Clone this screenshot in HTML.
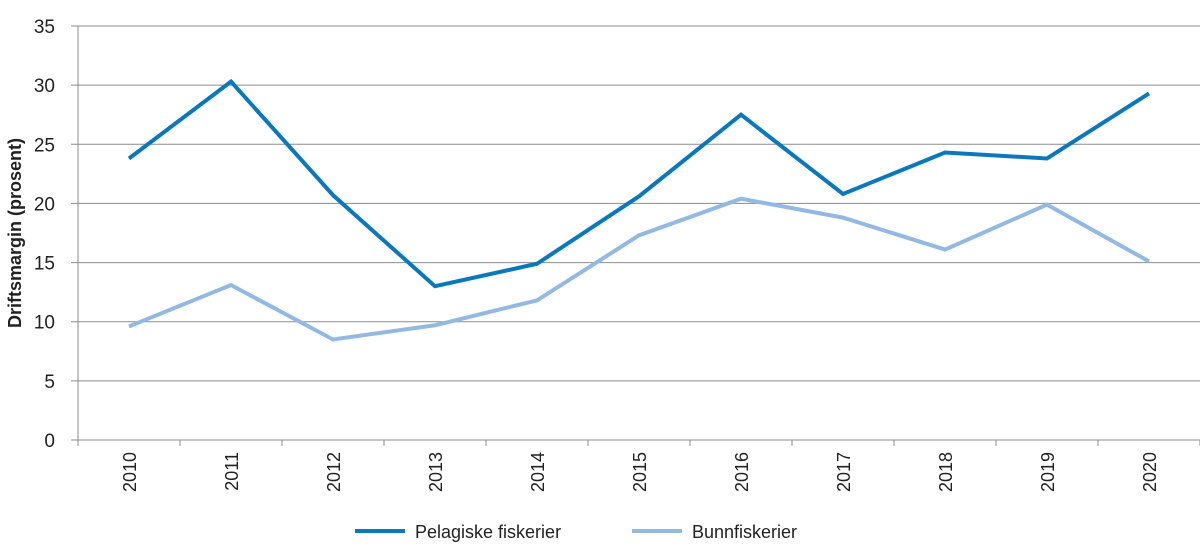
<!DOCTYPE html>
<html><head><meta charset="utf-8"><style>
body{margin:0;background:#fff;}
svg{display:block;font-family:"Liberation Sans",sans-serif;}
</style></head><body>
<svg id="chart" width="1200" height="558" viewBox="0 0 1200 558" xmlns="http://www.w3.org/2000/svg">
<g id="grid"></g><g id="axes"></g><g id="series"></g>
<text transform="translate(21,233) rotate(-90)" text-anchor="middle" font-size="18" font-weight="bold" fill="#222">Driftsmargin (prosent)</text>
<g>
<g><line x1="355" y1="531" x2="405" y2="531" stroke="#0a78bd" stroke-width="4"/><text x="415" y="538" font-size="18" fill="#222">Pelagiske fiskerier</text></g>
<g><line x1="632" y1="531" x2="682" y2="531" stroke="#92b9e3" stroke-width="4"/><text x="692" y="538" font-size="18" fill="#222">Bunnfiskerier</text></g>
</g>
</svg>
<script>
const categories=["2010","2011","2012","2013","2014","2015","2016","2017","2018","2019","2020"];
const pelagiske=[23.8,30.3,20.7,13.0,14.9,20.6,27.5,20.8,24.3,23.8,29.3];
const bunn=[9.6,13.1,8.5,9.7,11.8,17.3,20.4,18.8,16.1,19.9,15.1];
const yTicks=[0,5,10,15,20,25,30,35];
const NS="http://www.w3.org/2000/svg";
const L=78,R=1200,T=26,B=440,YMAX=35;
const step=(R-L)/categories.length;
const x=i=>L+step*(i+0.5);
const y=v=>B-(v/YMAX)*(B-T);
function mk(tag,attrs,parent){const e=document.createElementNS(NS,tag);for(const k in attrs)e.setAttribute(k,attrs[k]);parent.appendChild(e);return e;}
const grid=document.getElementById('grid'),axes=document.getElementById('axes'),ser=document.getElementById('series');
yTicks.forEach(t=>{
 const ln=mk('line',{x1:71,x2:R,y1:y(t),y2:y(t),stroke:'#8c8c8c','stroke-width':1},grid);
 
 
 const tx=mk('text',{x:55,y:y(t)+7,'text-anchor':'end','font-size':19,fill:'#222'},axes);
 tx.textContent=t;
 
 
});
const ya=mk('line',{x1:L,x2:L,y1:T,y2:B+6,stroke:'#8c8c8c','stroke-width':1},axes);


for(let i=0;i<=categories.length;i++){
 const tk=mk('line',{x1:L+step*i,x2:L+step*i,y1:B,y2:B+6,stroke:'#8c8c8c'},axes);
 
 
}
categories.forEach((c,i)=>{
 const tx=mk('text',{transform:`translate(${x(i)+7},${B+12}) rotate(-90)`,'text-anchor':'end','font-size':18,fill:'#222'},axes);
 tx.textContent=c;
 
 
});
function line(vals,color,name){
 const p=mk('polyline',{points:vals.map((v,i)=>x(i)+','+y(v)).join(' '),fill:'none',stroke:color,'stroke-width':4,'stroke-linejoin':'miter'},ser);
 
 
}
line(bunn,'#92b9e3','series-bunnfiskerier');
line(pelagiske,'#0a78bd','series-pelagiske');
</script>
</body></html>
